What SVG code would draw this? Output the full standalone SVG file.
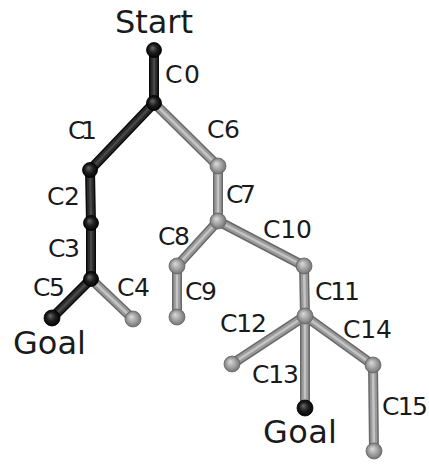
<svg xmlns="http://www.w3.org/2000/svg" xmlns:xlink="http://www.w3.org/1999/xlink" width="429" height="465" viewBox="0 0 429 465">
<style>
text{font-family:"DejaVu Sans","Liberation Sans",sans-serif;fill:#1a1a1a}
.lab{font-size:25px}
.big{font-size:32px}
.r1{stroke-width:10;stroke:#686868;stroke-linecap:round}
.r2{stroke-width:7;stroke:#9a9a9a;stroke-linecap:round}
.r3{stroke-width:2.5;stroke:#c4c4c4;stroke-linecap:round}
.d1{stroke-width:10;stroke:#0a0a0a;stroke-linecap:round}
.d2{stroke-width:7;stroke:#2a2a2a;stroke-linecap:round}
.d3{stroke-width:2.5;stroke:#484848;stroke-linecap:round}
.gb{fill:url(#gball);stroke:#666;stroke-width:0.8}
.db{fill:url(#dball);stroke:#000;stroke-width:0.8}
</style>
<defs>
<radialGradient id="gball" cx="0.5" cy="0.5" r="0.55" fx="0.38" fy="0.35">
<stop offset="0" stop-color="#dcdcdc"/><stop offset="0.6" stop-color="#9a9a9a"/><stop offset="1" stop-color="#6a6a6a"/>
</radialGradient>
<radialGradient id="dball" cx="0.5" cy="0.5" r="0.55" fx="0.38" fy="0.35">
<stop offset="0" stop-color="#6a6a6a"/><stop offset="0.5" stop-color="#1e1e1e"/><stop offset="1" stop-color="#000"/>
</radialGradient>
<g id="grayRods">
<line x1="154" y1="103" x2="218" y2="166"/>
<line x1="218" y1="166" x2="218" y2="221"/>
<line x1="218" y1="221" x2="177" y2="266"/>
<line x1="177" y1="266" x2="177" y2="317"/>
<line x1="218" y1="221" x2="304" y2="266"/>
<line x1="304" y1="266" x2="305" y2="316"/>
<line x1="305" y1="316" x2="232" y2="364"/>
<line x1="305" y1="316" x2="305" y2="408"/>
<line x1="305" y1="316" x2="373" y2="365"/>
<line x1="373" y1="365" x2="374" y2="451"/>
<line x1="91" y1="279" x2="133" y2="319"/>
</g>
<g id="darkRods">
<line x1="154" y1="50" x2="154" y2="103"/>
<line x1="154" y1="103" x2="90" y2="170"/>
<line x1="90" y1="170" x2="91" y2="223"/>
<line x1="91" y1="223" x2="91" y2="279"/>
<line x1="91" y1="279" x2="52" y2="318"/>
</g>
</defs>
<g id="connectors">
<use xlink:href="#grayRods" class="r1"/>
<use xlink:href="#grayRods" class="r2"/>
<use xlink:href="#grayRods" class="r3"/>
<use xlink:href="#darkRods" class="d1"/>
<use xlink:href="#darkRods" class="d2"/>
<use xlink:href="#darkRods" class="d3"/>
<g id="edge-labels" class="lab">
<text x="165" y="83" textLength="35">C0</text>
<text x="68" y="139" textLength="29">C1</text>
<text x="47" y="205" textLength="33">C2</text>
<text x="48" y="257" textLength="32">C3</text>
<text x="117" y="296" textLength="33">C4</text>
<text x="33" y="296" textLength="32">C5</text>
<text x="207" y="138" textLength="33">C6</text>
<text x="226" y="203" textLength="30">C7</text>
<text x="158" y="245" textLength="32">C8</text>
<text x="185" y="300" textLength="32">C9</text>
<text x="263" y="238" textLength="49">C10</text>
<text x="315" y="300" textLength="45">C11</text>
<text x="220" y="332" textLength="47">C12</text>
<text x="252" y="383" textLength="47">C13</text>
<text x="343" y="338" textLength="49">C14</text>
<text x="382" y="415" textLength="46">C15</text>
</g>
</g>
<g id="start"><circle class="db" cx="154" cy="50" r="7.5"/><text class="big" x="115" y="33" textLength="78">Start</text></g>
<g id="n1"><circle class="db" cx="154" cy="103" r="7.5"/></g>
<g id="n2"><circle class="db" cx="90" cy="170" r="7.5"/></g>
<g id="n3"><circle class="db" cx="91" cy="223" r="7.5"/></g>
<g id="n4"><circle class="db" cx="91" cy="279" r="7.5"/></g>
<g id="goal1"><circle class="db" cx="52" cy="318" r="8"/><text class="big" x="13" y="354" textLength="73">Goal</text></g>
<g id="n5"><circle class="gb" cx="133" cy="319" r="8"/></g>
<g id="n6"><circle class="gb" cx="218" cy="166" r="8"/></g>
<g id="n7"><circle class="gb" cx="218" cy="221" r="8"/></g>
<g id="n8"><circle class="gb" cx="177" cy="266" r="8"/></g>
<g id="n9"><circle class="gb" cx="177" cy="317" r="8"/></g>
<g id="n10"><circle class="gb" cx="304" cy="266" r="8"/></g>
<g id="n11"><circle class="gb" cx="305" cy="316" r="8"/></g>
<g id="n12"><circle class="gb" cx="232" cy="364" r="8"/></g>
<g id="goal2"><circle class="db" cx="305" cy="408" r="8"/><text class="big" x="263" y="443" textLength="74">Goal</text></g>
<g id="n14"><circle class="gb" cx="373" cy="365" r="8"/></g>
<g id="n15"><circle class="gb" cx="374" cy="451" r="8"/></g>
</svg>
